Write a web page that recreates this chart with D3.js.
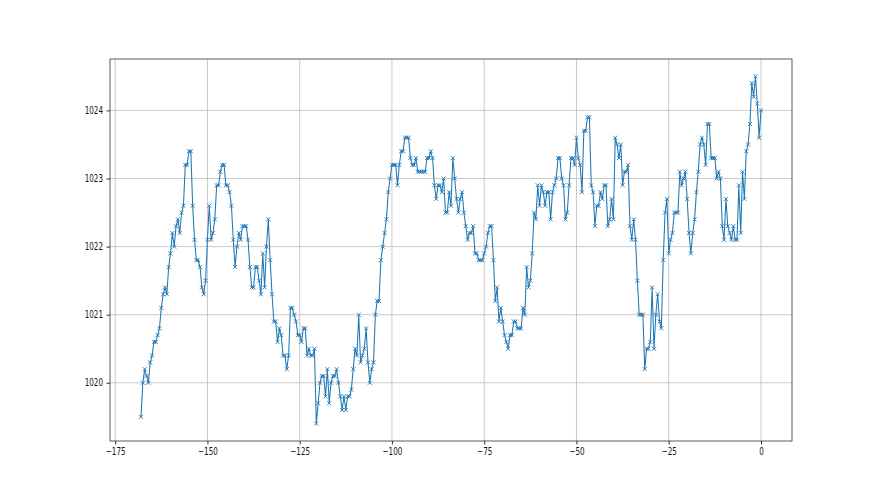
<!DOCTYPE html>
<html>
<head>
<meta charset="utf-8">
<script src="https://cdn.jsdelivr.net/npm/d3@7"></script>
<style>
  body { margin: 0; background: #fff; }
  text { font-family: "DejaVu Sans", sans-serif; }
</style>
</head>
<body>
<div id="chart"></div>
<script>
// pressure readings, one every half hour, last 168 h
const hours = d3.range(-168, 0.5, 0.5);
const pressure = [
  1019.5, 1020.0, 1020.2, 1020.1, 1020.0, 1020.3, 1020.4, 1020.6, 1020.6, 1020.7,
  1020.8, 1021.1, 1021.3, 1021.4, 1021.3, 1021.7, 1021.9, 1022.2, 1022.0, 1022.3,
  1022.4, 1022.2, 1022.5, 1022.6, 1023.2, 1023.2, 1023.4, 1023.4, 1022.6, 1022.1,
  1021.8, 1021.8, 1021.7, 1021.4, 1021.3, 1021.5, 1022.1, 1022.6, 1022.1, 1022.2,
  1022.4, 1022.9, 1022.9, 1023.1, 1023.2, 1023.2, 1022.9, 1022.9, 1022.8, 1022.6,
  1022.1, 1021.7, 1022.0, 1022.2, 1022.1, 1022.3, 1022.3, 1022.3, 1022.1, 1021.7,
  1021.4, 1021.4, 1021.7, 1021.7, 1021.5, 1021.3, 1021.9, 1021.4, 1022.0, 1022.4,
  1021.8, 1021.3, 1020.9, 1020.9, 1020.6, 1020.8, 1020.7, 1020.4, 1020.4, 1020.2,
  1020.4, 1021.1, 1021.1, 1021.0, 1020.9, 1020.7, 1020.7, 1020.6, 1020.8, 1020.8,
  1020.4, 1020.5, 1020.4, 1020.4, 1020.5, 1019.4, 1019.7, 1020.0, 1020.1, 1020.1,
  1019.8, 1020.2, 1019.7, 1020.0, 1020.1, 1020.1, 1020.2, 1020.0, 1019.8, 1019.6,
  1019.8, 1019.6, 1019.8, 1019.8, 1019.9, 1020.2, 1020.5, 1020.4, 1021.0, 1020.3,
  1020.4, 1020.5, 1020.8, 1020.3, 1020.0, 1020.2, 1020.3, 1021.0, 1021.2, 1021.2,
  1021.8, 1022.0, 1022.2, 1022.4, 1022.8, 1023.0, 1023.2, 1023.2, 1023.2, 1022.9,
  1023.2, 1023.4, 1023.4, 1023.6, 1023.6, 1023.6, 1023.3, 1023.2, 1023.2, 1023.3,
  1023.1, 1023.1, 1023.1, 1023.1, 1023.1, 1023.3, 1023.3, 1023.4, 1023.3, 1022.9,
  1022.7, 1022.9, 1022.9, 1022.8, 1023.0, 1022.5, 1022.5, 1022.8, 1022.6, 1023.3,
  1023.0, 1022.7, 1022.5, 1022.7, 1022.8, 1022.5, 1022.3, 1022.1, 1022.2, 1022.2,
  1022.3, 1021.9, 1021.9, 1021.8, 1021.8, 1021.8, 1021.9, 1022.0, 1022.2, 1022.3,
  1022.3, 1021.8, 1021.2, 1021.4, 1020.9, 1021.1, 1020.9, 1020.7, 1020.6, 1020.5,
  1020.7, 1020.7, 1020.9, 1020.9, 1020.8, 1020.8, 1020.8, 1021.1, 1021.0, 1021.7,
  1021.4, 1021.5, 1021.9, 1022.5, 1022.4, 1022.9, 1022.6, 1022.9, 1022.8, 1022.6,
  1022.8, 1022.8, 1022.4, 1022.8, 1022.9, 1023.0, 1023.3, 1023.3, 1023.0, 1022.9,
  1022.4, 1022.5, 1022.9, 1023.3, 1023.3, 1023.2, 1023.6, 1023.3, 1023.2, 1022.8,
  1023.7, 1023.7, 1023.9, 1023.9, 1022.9, 1022.8, 1022.3, 1022.6, 1022.6, 1022.8,
  1022.7, 1022.9, 1022.9, 1022.3, 1022.4, 1022.7, 1022.4, 1023.6, 1023.5, 1023.3,
  1023.5, 1022.9, 1023.1, 1023.1, 1023.2, 1022.3, 1022.1, 1022.4, 1022.1, 1021.5,
  1021.0, 1021.0, 1021.0, 1020.2, 1020.5, 1020.5, 1020.6, 1021.4, 1020.5, 1021.0,
  1021.3, 1020.9, 1020.8, 1021.8, 1022.5, 1022.7, 1021.9, 1022.1, 1022.2, 1022.5,
  1022.5, 1022.5, 1023.1, 1022.9, 1023.0, 1023.1, 1022.7, 1022.2, 1021.9, 1022.2,
  1022.4, 1022.8, 1023.1, 1023.5, 1023.6, 1023.5, 1023.2, 1023.8, 1023.8, 1023.3,
  1023.3, 1023.3, 1023.0, 1023.1, 1023.0, 1022.3, 1022.1, 1022.7, 1022.3, 1022.2,
  1022.1, 1022.3, 1022.1, 1022.1, 1022.9, 1022.2, 1023.1, 1022.7, 1023.4, 1023.5,
  1023.8, 1024.4, 1024.2, 1024.5, 1024.1, 1023.6, 1024.0
];
const xTicks = [-175, -150, -125, -100, -75, -50, -25, 0];
const yTicks = [1020, 1021, 1022, 1023, 1024];

const data = hours.map((h, i) => ({ h: h, p: pressure[i] }));

const width = 880;
const height = 495;
const margin = { top: 59, right: 88, bottom: 54, left: 110 };
const chartWidth = width - margin.left - margin.right;
const chartHeight = height - margin.top - margin.bottom;

// matplotlib style 5% margins
const pad = (ext) => {
  const d = (ext[1] - ext[0]) * 0.05;
  return [ext[0] - d, ext[1] + d];
};

const xScale = d3.scaleLinear()
  .domain(pad(d3.extent(hours)))
  .range([0, chartWidth]);

const yScale = d3.scaleLinear()
  .domain(pad(d3.extent(pressure)))
  .range([chartHeight, 0]);

const svg = d3.select("#chart").append("svg")
  .attr("width", width)
  .attr("height", height);

const g = svg.append("g").attr("transform", `translate(${margin.left},${margin.top})`);

// grid
g.append("g")
  .selectAll("line")
  .data(xTicks)
  .enter()
  .append("line")
  .attr("x1", (d) => xScale(d))
  .attr("x2", (d) => xScale(d))
  .attr("y1", 0)
  .attr("y2", chartHeight)
  .attr("stroke", "#bdbdbd")
  .attr("stroke-width", 0.8);

g.append("g")
  .selectAll("line")
  .data(yTicks)
  .enter()
  .append("line")
  .attr("x1", 0)
  .attr("x2", chartWidth)
  .attr("y1", (d) => yScale(d))
  .attr("y2", (d) => yScale(d))
  .attr("stroke", "#bdbdbd")
  .attr("stroke-width", 0.8);

// line
const line = d3.line()
  .x((d) => xScale(d.h))
  .y((d) => yScale(d.p));

g.append("path")
  .datum(data)
  .attr("fill", "none")
  .attr("stroke", "#1f77b4")
  .attr("stroke-width", 1.05)
  .attr("stroke-linejoin", "round")
  .attr("d", line);

// x markers
const ms = 2;
g.append("g")
  .selectAll("path")
  .data(data)
  .enter()
  .append("path")
  .attr("transform", (d) => `translate(${xScale(d.h)},${yScale(d.p)})`)
  .attr("d", `M${-ms},${-ms}L${ms},${ms}M${-ms},${ms}L${ms},${-ms}`)
  .attr("stroke", "#1f77b4")
  .attr("stroke-width", 0.9)
  .attr("fill", "none");

// axes
const xAxis = d3.axisBottom(xScale)
  .tickValues(xTicks)
  .tickSize(3.5)
  .tickPadding(3.5)
  .tickFormat(d3.format("d"));

const yAxis = d3.axisLeft(yScale)
  .tickValues(yTicks)
  .tickSize(3.5)
  .tickPadding(3.5)
  .tickFormat(d3.format("d"));

const gx = g.append("g")
  .attr("transform", `translate(0,${chartHeight})`)
  .call(xAxis);

const gy = g.append("g").call(yAxis);

[gx, gy].forEach((ax) => {
  ax.select(".domain").remove();
  ax.selectAll(".tick line").attr("stroke", "#333");
  ax.selectAll(".tick text")
    .attr("fill", "#111")
    .style("font-size", "10px");
});
gx.selectAll(".tick text").attr("transform", "scale(0.72,1)");
gy.selectAll(".tick text")
  .attr("x", -7 / 0.72)
  .attr("transform", "scale(0.72,1)");

// spines
g.append("rect")
  .attr("x", 0)
  .attr("y", 0)
  .attr("width", chartWidth)
  .attr("height", chartHeight)
  .attr("fill", "none")
  .attr("stroke", "#333")
  .attr("stroke-width", 0.8);
</script>
</body>
</html>
